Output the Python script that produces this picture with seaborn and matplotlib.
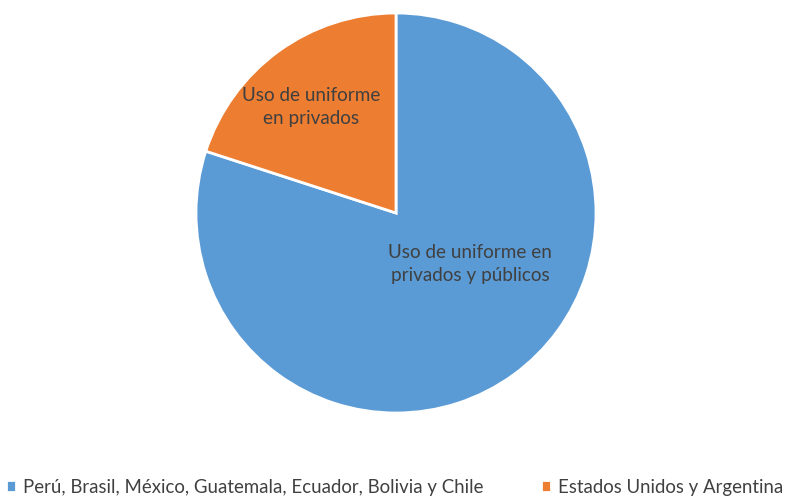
import matplotlib
matplotlib.use('Agg')
import matplotlib.pyplot as plt
import seaborn as sns

categorias = ['Perú, Brasil, México, Guatemala, Ecuador, Bolivia y Chile',
              'Estados Unidos y Argentina']
valores = [80, 20]
etiquetas = ['Uso de uniforme en\nprivados y públicos',
             'Uso de uniforme\nen privados']
colores = ['#5B9BD5', '#ED7D31']

sns.set_theme(style='white')
plt.rcParams['font.family'] = ['Lato', 'DejaVu Sans']

fig = plt.figure(figsize=(7.89, 4.99), dpi=100)
ax = fig.add_axes([194 / 789, 84 / 499, 404 / 789, 404 / 499])

wedges, _ = ax.pie(valores, colors=colores, startangle=90, counterclock=False,
                   wedgeprops=dict(edgecolor='white', linewidth=2))
ax.set_xlim(-1.01, 1.01)
ax.set_ylim(-1.01, 1.01)
ax.set_aspect('equal')

# etiquetas dentro de cada sector
ax.text(0.37, -0.255, etiquetas[0], ha='center', va='center',
        fontsize=13.6, color='#404040', linespacing=1.45)
ax.text(-0.425, 0.53, etiquetas[1], ha='center', va='center',
        fontsize=13.6, color='#404040', linespacing=1.45)

fig.legend(wedges, categorias, loc='center', bbox_to_anchor=(0.5, 0.024),
           ncol=2, frameon=False, fontsize=13.4, handlelength=0.55,
           handleheight=0.55, handletextpad=0.4, columnspacing=3.05,
           labelcolor='#404040')

fig.savefig('out.png', dpi=100)
